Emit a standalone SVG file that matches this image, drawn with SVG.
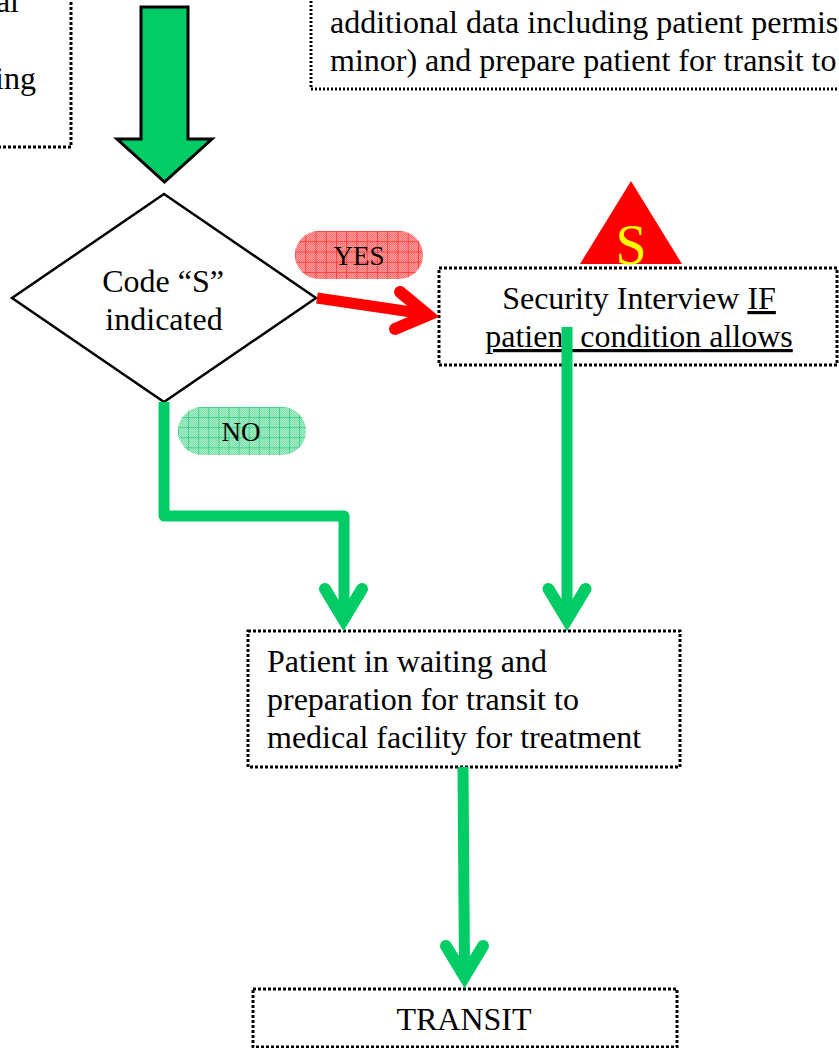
<svg xmlns="http://www.w3.org/2000/svg" width="839" height="1048" viewBox="0 0 839 1048">
<style>
text{font-family:"Liberation Serif","Times New Roman",serif;font-size:32px;fill:#000}
.small{font-size:27px}
.box{fill:#fff;stroke:#000;stroke-width:3;stroke-dasharray:3 2}
.fine{fill:none;stroke:#000;stroke-width:3;stroke-dasharray:2 2}
.g{fill:none;stroke:#00cc66;stroke-width:11;stroke-linejoin:round}
.h{fill:none;stroke-width:12;stroke-linecap:round;stroke-linejoin:miter;stroke:#00cc66}
.m{text-anchor:middle}
</style>
<defs>
<pattern id="dr" width="2" height="2" patternUnits="userSpaceOnUse"><rect width="2" height="2" fill="#ffa0a0"/><rect width="1" height="1" fill="#ff6c6c"/><rect x="1" y="1" width="1" height="1" fill="#ff6c6c"/></pattern>
<pattern id="dg" width="2" height="2" patternUnits="userSpaceOnUse"><rect width="2" height="2" fill="#a8ebc6"/><rect width="1" height="1" fill="#7fe0ab"/><rect x="1" y="1" width="1" height="1" fill="#7fe0ab"/></pattern>
<pattern id="pr" width="10.25" height="10.25" patternUnits="userSpaceOnUse" x="295" y="231"><path d="M0 0V10.25M0 0H10.25" stroke="#ff2a2a" stroke-width="1.4" fill="none"/></pattern>
<pattern id="pg" width="10.1" height="10.1" patternUnits="userSpaceOnUse" x="178" y="407"><path d="M0 0V10.1M0 0H10.1" stroke="#1fce78" stroke-width="1.4" fill="none"/></pattern>
</defs>
<g id="node-top-left"><path class="box" d="M71 -3V147H-3"/><text x="19" y="12" text-anchor="end">al</text><text x="36" y="89" text-anchor="end">ing</text></g>
<g id="node-top-right"><path class="fine" d="M311 -3V89H842"/><text x="330" y="33">additional data including patient permis</text><text x="330" y="71">minor) and prepare patient for transit to</text></g>
<g id="node-decision"><path d="M164 194L316 298L164 402L12 298Z" fill="#fff" stroke="#000" stroke-width="2.5"/><text class="m" x="163" y="292">Code “S”</text><text class="m" x="164" y="330">indicated</text></g>
<g id="label-yes"><rect x="295" y="231" width="128" height="48" rx="24" fill="url(#dr)"/><rect x="295" y="231" width="128" height="48" rx="24" fill="url(#pr)"/><text class="small m" x="359" y="265">YES</text></g>
<g id="label-no"><rect x="178" y="407" width="128" height="48" rx="24" fill="url(#dg)"/><rect x="178" y="407" width="128" height="48" rx="24" fill="url(#pg)"/><text class="small m" x="241" y="441">NO</text></g>
<g id="node-security-triangle"><path d="M631 181L682 264H580Z" fill="#f00"/><text class="m" x="631" y="264" style="font-size:56px;fill:#ff0">S</text></g>
<g id="node-security"><rect class="box" x="439" y="268" width="398" height="97"/><text class="m" x="639" y="309">Security Interview <tspan text-decoration="underline">IF</tspan></text><text class="m" x="639" y="347" text-decoration="underline">patient condition allows</text></g>
<g id="node-waiting"><rect class="box" x="248" y="631" width="432" height="136"/><text x="267" y="672">Patient in waiting and</text><text x="267" y="710">preparation for transit to</text><text x="267" y="748">medical facility for treatment</text></g>
<g id="node-transit"><rect class="box" x="253" y="989" width="424" height="58"/><text class="m" x="464" y="1030">TRANSIT</text></g>
<g id="connectors">
<path d="M141 7H188V139H212L164.5 182L117 139H141Z" fill="#00cc66" stroke="#000" stroke-width="3"/>
<path d="M164 402V516H344V615" class="g"/>
<path d="M325 589L343.5 619.7L362 589" class="h"/>
<path d="M567 327V615" class="g"/>
<path d="M548.5 589L567 619.7L585.5 589" class="h"/>
<path d="M463 767L464.5 972" class="g"/>
<path d="M446 946L464.5 976.7L483 946" class="h"/>
<path d="M317 298L425 314" fill="none" stroke="#f00" stroke-width="11"/>
<path d="M400 292L428 315L395 329" fill="none" stroke="#f00" stroke-width="12" stroke-linecap="round"/>
</g>
</svg>
